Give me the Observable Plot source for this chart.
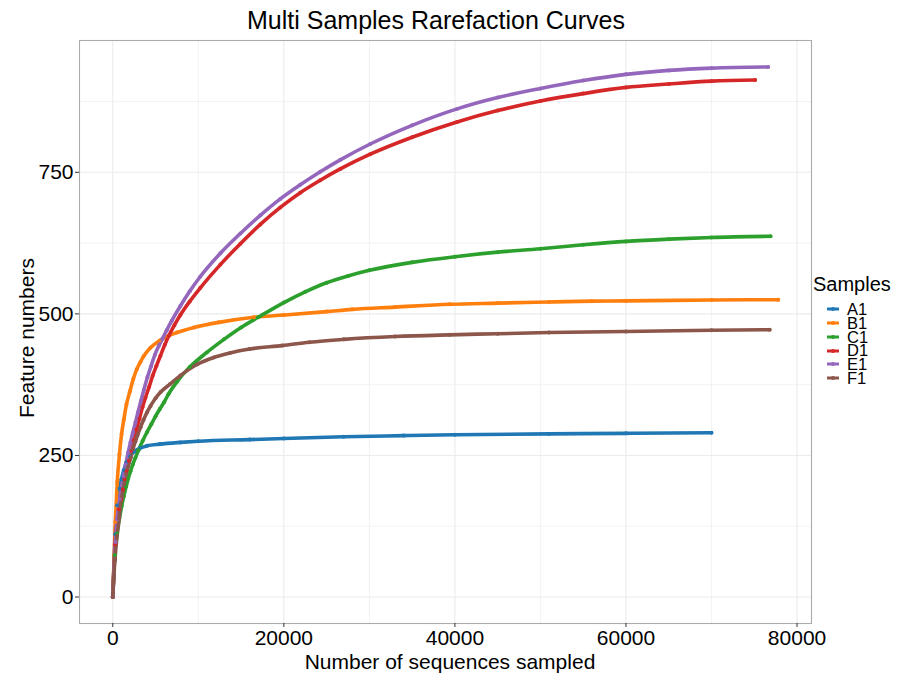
<!DOCTYPE html>
<html>
<head>
<meta charset="utf-8">
<script src="https://cdn.jsdelivr.net/npm/d3@7"></script>
<script src="https://cdn.jsdelivr.net/npm/@observablehq/plot@0.6"></script>
<style>
  html, body { margin: 0; padding: 0; background: #fff; }
  #wrap { position: relative; width: 900px; height: 676px; font-family: "Liberation Sans", Arial, sans-serif; color: #000; }
  #wrap svg.plot { position: absolute; left: 0; top: 0; }
  .title { position: absolute; left: 0; width: 872px; top: 8px; text-align: center; font-size: 25px; line-height: 1; }
  .xlab { position: absolute; left: 0; width: 900px; top: 651px; text-align: center; font-size: 21px; line-height: 1; }
  .ylab { position: absolute; left: 26px; top: 338px; font-size: 21px; line-height: 1; white-space: nowrap; transform: translate(-50%, -50%) rotate(-90deg); }
  .legend { position: absolute; left: 813px; top: 274px; line-height: 1; }
  .legend .lt { height: 28.4px; font-size: 20px; }
  .legend .row { display: flex; align-items: center; height: 13.8px; font-size: 16.5px; }
  .legend .row svg { margin-left: 13px; margin-right: 7px; }
</style>
</head>
<body>
<div id="wrap">
  <div class="title">Multi Samples Rarefaction Curves</div>
  <div class="xlab">Number of sequences sampled</div>
  <div class="ylab">Feature numbers</div>
  <div class="legend" id="legend"><div class="lt">Samples</div></div>
</div>
<script>
// ---- data ----
const samples = ["A1", "B1", "C1", "D1", "E1", "F1"];
const sampleColors = ["#1f77b4", "#ff7f0e", "#2ca02c", "#d62728", "#9467bd", "#8c564b"];

const xTicks = [0, 20000, 40000, 60000, 80000];
const xMinorTicks = [10000, 30000, 50000, 70000];
const yTicks = [0, 250, 500, 750];
const yMinorTicks = [125, 375, 625, 875];

const depthA1 = [0, 280, 510, 780, 1015, 1290, 1600, 2000, 2450, 3200, 4000, 5500, 7900, 10000, 16000, 20000, 27000, 34000, 40000, 51000, 60000, 70000];
const featA1  = [0, 111, 162, 191, 208, 224, 238, 248, 256, 263, 267, 270, 273, 275, 278, 280, 283, 285, 286.5, 288, 289, 290];

const depthB1 = [0, 300, 520, 780, 1030, 1300, 1600, 2000, 2400, 2800, 3200, 3600, 4400, 5500, 6500, 7500, 9500, 12400, 16500, 20000, 25000, 28000, 33000, 39400, 45000, 51000, 56000, 60000, 70000, 77800];
const featB1  = [0, 133, 203, 252, 288, 314, 340, 363, 385, 402, 414, 425, 440, 453, 461, 467, 476, 485, 494, 498, 504, 508, 512, 517, 519, 521, 522.5, 523, 524.5, 525];

const depthC1 = [0, 234, 510, 1050, 1290, 1565, 1800, 2070, 2340, 2650, 3000, 3500, 4000, 4500, 5000, 5500, 6000, 6500, 7500, 9000, 11000, 13000, 15000, 17000, 20000, 22500, 25000, 27500, 30000, 35000, 40000, 45000, 50000, 55000, 60000, 65000, 70000, 76900];
const featC1  = [0, 74, 112, 161, 178, 195, 209, 222, 234, 246, 259, 276, 291, 305, 319, 332, 344, 358, 380, 406, 432, 455, 476, 494, 520, 539, 555, 567, 577, 591, 601, 609, 615, 622, 628, 632, 635, 637];

const depthD1 = [0, 257, 700, 980, 1170, 1370, 1600, 1870, 2150, 2450, 2770, 3120, 3470, 3820, 4250, 4670, 5100, 5570, 6070, 6540, 7200, 7900, 9000, 10240, 12580, 14920, 17250, 19590, 21920, 24260, 26600, 30100, 35000, 40250, 45000, 50000, 55000, 60000, 65000, 70000, 75100];
const featD1  = [0, 93, 155, 173, 190, 208, 222, 240, 258, 277, 296, 315, 335, 352, 371, 391, 408, 426, 445, 461, 480, 498, 522, 546, 587, 624, 658, 688, 714, 736, 756, 782, 812, 839, 859, 876, 889, 900, 906, 911, 913];

const depthE1 = [0, 315, 510, 820, 1100, 1290, 1520, 1800, 2070, 2340, 2650, 2940, 3290, 3640, 4050, 4460, 4930, 5400, 5770, 6300, 6900, 7900, 9000, 10240, 12580, 14920, 17250, 19590, 21920, 24260, 26600, 30100, 35000, 40250, 45000, 50000, 55000, 60000, 65000, 70000, 76620];
const featE1  = [0, 97, 137, 173, 199, 214, 234, 255, 273, 290, 308, 326, 346, 366, 388, 407, 428, 444, 455, 471, 488, 514, 540, 566, 607, 642, 674, 703, 728, 751, 772, 800, 833, 862, 882, 898, 912, 923, 930, 934, 936];

const depthF1 = [0, 250, 500, 750, 900, 1100, 1300, 1550, 1800, 2100, 2350, 2650, 2900, 3250, 3600, 4000, 4400, 5000, 5600, 6700, 7900, 9900, 11800, 13700, 16000, 19800, 23000, 27000, 33000, 39400, 45000, 51000, 60000, 70000, 76800];
const featF1  = [0, 65, 108, 139, 161, 178, 199, 217, 231, 246, 261, 275, 286, 300, 313, 326, 337, 351, 362, 376, 391, 411, 423, 431, 438, 444, 450, 455, 460, 463, 465, 467, 469, 471, 472];

// ---- build a tidy table for Plot ----
const seriesArrays = {A1: [depthA1, featA1], B1: [depthB1, featB1], C1: [depthC1, featC1], D1: [depthD1, featD1], E1: [depthE1, featE1], F1: [depthF1, featF1]};
const table = [];
for (const s of samples) {
  const [xs, ys] = seriesArrays[s];
  xs.forEach((d, i) => table.push({sample: s, depth: d, features: ys[i]}));
}

// ggplot-like 5% expansion of the data range
const xMax = d3.max(table, d => d.depth), yMax = d3.max(table, d => d.features);
const xPad = xMax * 0.05, yPad = yMax * 0.05;

const chart = Plot.plot({
  width: 900,
  height: 676,
  marginLeft: 79,
  marginRight: 89,
  marginTop: 40,
  marginBottom: 53,
  style: {fontFamily: "Liberation Sans, Arial, sans-serif", fontSize: "21px", color: "#000", background: "transparent"},
  x: {domain: [-xPad, xMax + xPad]},
  y: {domain: [-yPad, yMax + yPad]},
  color: {domain: samples, range: sampleColors},
  marks: [
    Plot.gridX(xMinorTicks, {stroke: "#ebebeb", strokeOpacity: 1, strokeWidth: 0.6}),
    Plot.gridY(yMinorTicks, {stroke: "#ebebeb", strokeOpacity: 1, strokeWidth: 0.6}),
    Plot.gridX(xTicks, {stroke: "#ebebeb", strokeOpacity: 1, strokeWidth: 1.1}),
    Plot.gridY(yTicks, {stroke: "#ebebeb", strokeOpacity: 1, strokeWidth: 1.1}),
    Plot.line(table, {x: "depth", y: "features", z: "sample", stroke: "sample", strokeWidth: 3.6, curve: "monotone-x"}),
    Plot.dot(table, {x: "depth", y: "features", fill: "sample", r: 2}),
    Plot.frame({stroke: "#ababab", strokeWidth: 1.1}),
    Plot.axisX(xTicks, {tickFormat: d => String(d), tickSize: 4, tickPadding: 3, stroke: "#333", label: null}),
    Plot.axisY(yTicks, {tickFormat: d => String(d), tickSize: 4, tickPadding: 2, stroke: "#333", label: null})
  ]
});
chart.classList.add("plot");
document.getElementById("wrap").prepend(chart);

// ---- legend ----
const legend = d3.select("#legend");
samples.forEach((s, i) => {
  const row = legend.append("div").attr("class", "row");
  const svg = row.append("svg").attr("width", 14).attr("height", 8);
  svg.append("line").attr("x1", 1).attr("x2", 13).attr("y1", 4).attr("y2", 4)
     .attr("stroke", sampleColors[i]).attr("stroke-width", 3);
  svg.append("circle").attr("cx", 7).attr("cy", 4).attr("r", 2).attr("fill", sampleColors[i]);
  row.append("span").text(s);
});
</script>
</body>
</html>
